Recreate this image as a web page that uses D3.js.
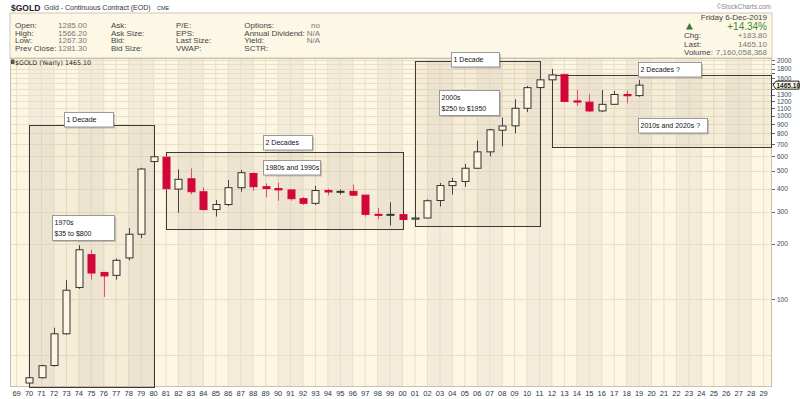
<!DOCTYPE html>
<html><head><meta charset="utf-8">
<script src="https://cdn.jsdelivr.net/npm/d3@7/dist/d3.min.js"></script>
<style>body{margin:0;background:#fff;}svg{display:block;font-family:"Liberation Sans",Arial,sans-serif;}</style>
</head><body><svg id="c" width="800" height="399"></svg>
<script>
// ---------- data ----------
const years  = [1970,1971,1972,1973,1974,1975,1976,1977,1978,1979,1980,1981,1982,1983,1984,1985,1986,1987,1988,1989,1990,1991,1992,1993,1994,1995,1996,1997,1998,1999,2000,2001,2002,2003,2004,2005,2006,2007,2008,2009,2010,2011,2012,2013,2014,2015,2016,2017,2018,2019];
const opens  = [35.0,37.4,43.6,64.9,116,175,140,135,168,226,562,594,398,453,385,308,328,405,484,410,401,394,353,333,391,384,387,369,290,288,289,273,277,345,416,438,517,635,833,880,1096,1421,1566,1670,1202,1184,1061,1152,1303,1285];
const highs  = [38.0,44.0,70.0,127,197,186,141,167,244,520,600,600,510,516,407,347,446,506,489,428,431,396,360,414,400,396,422,370,315,337,290,279,350,430,458,545,730,848,975,1227,1450,1925,1795,1690,1380,1308,1377,1362,1365,1566.2];
const lows   = [34.8,37.0,43.0,64.0,114,128,103,128,163,215,558,395,296,373,304,282,322,385,390,359,344,344,326,326,368,372,365,282,273,252,270,271,276,320,372,410,515,600,680,801,1045,1308,1540,1185,1130,1046,1046,1146,1167,1267.3];
const closes = [37.4,43.5,64.9,112,186,139,134,163,226,512,597,400,450,385,308,328,405,489,410,401,394,353,333,391,384,387,369,290,288,290,272,277,344,416,438,517,635,837,878,1096,1420,1566,1665,1195,1185,1060,1152,1303,1283,1465.1];

const xYears = d3.range(1969, 2030);
const yTickLabels = [2000,1800,1600,1300,1200,1100,1000,900,800,700,600,500,400,300,200,100];
const yGridValues = [2000,1900,1800,1700,1600,1500,1400,1300,1200,1100,1000,900,800,700,600,500,400,300,200,100,50];
const lastPrice = 1465.10;

// annotation rectangles (year span, price span)
const zoneY0 = [1970,1981,2001,2012];
const zoneY1 = [1980,2000,2011,2029.6];
const zoneLo = [33.4,240,251,672];
const zoneHi = [890,631,1983,1663];

// annotation labels (top-left anchor in year / price)
const noteText = [["1 Decade"],["1970s","$35 to $800"],["2 Decades"],["1980s and 1990s"],["1 Decade"],["2000s","$250 to $1950"],["2 Decades ?"],["2010s and 2020s ?"]];
const noteYear = [1972.8,1971.85,1988.8,1988.8,2003.9,2002.93,2018.9,2018.9];
const notePrice = [1046,288,784,573,2206,1378,1958,970];
const noteWidth = [49,62,49,57,48,60,63,69]; // px (layout)

// header info
const hdrLabels = [["Open:","High:","Low:","Prev Close:"],["Ask:","Ask Size:","Bid:","Bid Size:"],["P/E:","EPS:","Last Size:","VWAP:"],["Options:","Annual Dividend:","Yield:","SCTR:"]];
const hdrValues = [["1285.00","1566.20","1267.30","1281.30"],["","","",""],["","","",""],["no","N/A","N/A",""]];

// ---------- layout ----------
const svg = d3.select("#c");
const L = 10, R = 772, T = 58, B = 387;
const x = d3.scaleLinear().domain([1969, 2029]).range([16.6, 763.6]);
const y = d3.scaleLog().domain([33.3, 2059]).range([B, T]);

// header
svg.append("text").attr("x",11).attr("y",10.5).attr("font-size",8.5).attr("font-weight","bold").attr("fill","#222").text("$GOLD");
svg.append("text").attr("x",44).attr("y",10).attr("font-size",7).attr("fill","#333").text("Gold - Continuous Contract (EOD)");
svg.append("text").attr("x",157).attr("y",10).attr("font-size",5.5).attr("fill","#333").text("CME");
svg.append("text").attr("x",771).attr("y",9).attr("text-anchor","end").attr("font-size",6.5).attr("fill","#888").text("\u00A9StockCharts.com");
svg.append("rect").attr("x",L).attr("y",13).attr("width",R-L).attr("height",T-13).attr("fill","#fdf7e6").attr("stroke","#cfc8b4");

const colX = [15,111,176,244.3];
const valX = [58,null,null,320];
const rowY = [28,35.6,43.2,50.8];
hdrLabels.forEach((col,ci)=>col.forEach((t,ri)=>{
  svg.append("text").attr("x",colX[ci]).attr("y",rowY[ri]).attr("font-size",8).attr("fill","#444").text(t);
  const v = hdrValues[ci][ri];
  if (v) svg.append("text").attr("x",valX[ci]).attr("y",rowY[ri]).attr("font-size",8).attr("fill","#777")
     .attr("text-anchor", ci===3?"end":"start").text(v);
}));
svg.append("text").attr("x",767).attr("y",19.5).attr("text-anchor","end").attr("font-size",8).attr("fill","#444").text("Friday  6-Dec-2019");
svg.append("path").attr("d","M686,29.5 L689.5,23 L693,29.5 Z").attr("fill","#2e7d32");
svg.append("text").attr("x",767).attr("y",30).attr("text-anchor","end").attr("font-size",10).attr("fill","#3d8a3d").text("+14.34%");
[["Chg:","+183.80",37.8],["Last:","1465.10",46.6],["Volume:","7,160,058,368",55.4]].forEach(r=>{
  svg.append("text").attr("x",684).attr("y",r[2]).attr("font-size",8).attr("fill","#444").text(r[0]);
  svg.append("text").attr("x",767).attr("y",r[2]).attr("text-anchor","end").attr("font-size",8).attr("fill","#777").text(r[1]);
});

// plot background
svg.append("rect").attr("x",L).attr("y",T).attr("width",R-L).attr("height",B-T).attr("fill","#fdf6e3");
const bandStarts = d3.range(1970, 2030, 4);
svg.append("g").selectAll("rect").data(bandStarts).join("rect")
  .attr("x",d=>x(d)).attr("y",T).attr("width",d=>Math.min(x(d+2),R)-x(d)).attr("height",B-T).attr("fill","#f4ecda");
// grid
svg.append("g").selectAll("line").data(xYears).join("line")
  .attr("x1",d=>x(d)).attr("x2",d=>x(d)).attr("y1",T).attr("y2",B).attr("stroke","#e9dfc6").attr("stroke-width",1);
svg.append("g").selectAll("line").data(yGridValues).join("line")
  .attr("x1",L).attr("x2",R).attr("y1",d=>Math.round(y(d))+0.5).attr("y2",d=>Math.round(y(d))+0.5).attr("stroke","#e9dfc6");

// frame
svg.append("rect").attr("x",L+0.5).attr("y",T+0.5).attr("width",R-L-1).attr("height",B-T-1).attr("fill","none").attr("stroke","#c9c1aa");

// legend line in plot
svg.append("rect").attr("x",11).attr("y",59.5).attr("width",3.5).attr("height",4.5).attr("fill","#555");
svg.append("text").attr("x",15).attr("y",64.5).attr("font-size",6.3).attr("font-family","DejaVu Sans").attr("fill","#222").text("$GOLD (Yearly) 1465.10");

// zones
const zg = svg.append("g");
zoneY0.forEach((y0,i)=>{
  const x0 = x(y0), x1 = Math.min(x(zoneY1[i]), R-0.5);
  zg.append("rect").attr("x",Math.round(x0)+0.5).attr("y",Math.round(y(zoneHi[i]))+0.5)
    .attr("width",Math.round(x1-x0)).attr("height",Math.round(y(zoneLo[i])-y(zoneHi[i])))
    .attr("fill","rgba(110,85,40,0.055)").attr("stroke","#3a3a3a").attr("stroke-width",1);
});

// candles
const data = years.map((yr,i)=>({yr,o:opens[i],h:highs[i],l:lows[i],c:closes[i]}));
const cg = svg.append("g");
const bw = 7;
data.forEach(d=>{
  const up = d.c >= d.o;
  const cx = Math.round(x(d.yr))+0.5;
  cg.append("line").attr("x1",cx).attr("x2",cx).attr("y1",y(d.h)).attr("y2",y(d.l)).attr("stroke",up?"#444":"#e0506e").attr("stroke-width",1);
  const top = y(Math.max(d.o,d.c)), bot = y(Math.min(d.o,d.c));
  const h = Math.max(1, bot-top);
  cg.append("rect").attr("x",cx-bw/2).attr("y",top).attr("width",bw).attr("height",h)
    .attr("fill", up ? "#fdf6e3" : "#d3063a").attr("stroke", up ? "#333" : "#d3063a").attr("stroke-width",1);
});

// notes
const ng = svg.append("g");
noteText.forEach((lines,i)=>{
  const nx = Math.round(x(noteYear[i]))+0.5, ny = Math.round(y(notePrice[i]))+0.5;
  const h = 4 + lines.length*10.5;
  ng.append("rect").attr("x",nx+1.5).attr("y",ny+1.5).attr("width",noteWidth[i]).attr("height",h).attr("fill","rgba(0,0,0,0.18)");
  ng.append("rect").attr("x",nx).attr("y",ny).attr("width",noteWidth[i]).attr("height",h).attr("fill","#fff").attr("stroke","#999");
  lines.forEach((t,j)=>ng.append("text").attr("x",nx+2).attr("y",ny+9.5+j*10.5).attr("font-size",7).attr("fill","#111").text(t));
});

// right axis
const ag = svg.append("g");
yGridValues.filter(v=>v>=100).forEach(v=>{
  ag.append("line").attr("x1",R).attr("x2",R+3).attr("y1",Math.round(y(v))+0.5).attr("y2",Math.round(y(v))+0.5).attr("stroke","#667");
});
ag.selectAll("text").data(yTickLabels).join("text")
  .attr("x",R+5).attr("y",d=>y(d)+2.5).attr("font-size",6.5).attr("fill","#3b4a5e").text(d=>d);
// last price tag
const ly = y(lastPrice);
ag.append("path").attr("d",`M${R+1},${ly} L${R+4},${ly-4} L${R+27},${ly-4} L${R+27},${ly+4} L${R+4},${ly+4} Z`)
  .attr("fill","#fdf6e3").attr("stroke","#222");
ag.append("text").attr("x",R+4.5).attr("y",ly+2.5).attr("font-size",6.5).attr("font-weight","bold").attr("fill","#222").text("1465.10");

// x axis labels
svg.append("g").selectAll("text").data(xYears).join("text")
  .attr("x",d=>x(d)).attr("y",396).attr("text-anchor","middle").attr("font-size",7.5).attr("fill","#333")
  .text(d=>String(d%100).padStart(2,"0"));
</script></body></html>
